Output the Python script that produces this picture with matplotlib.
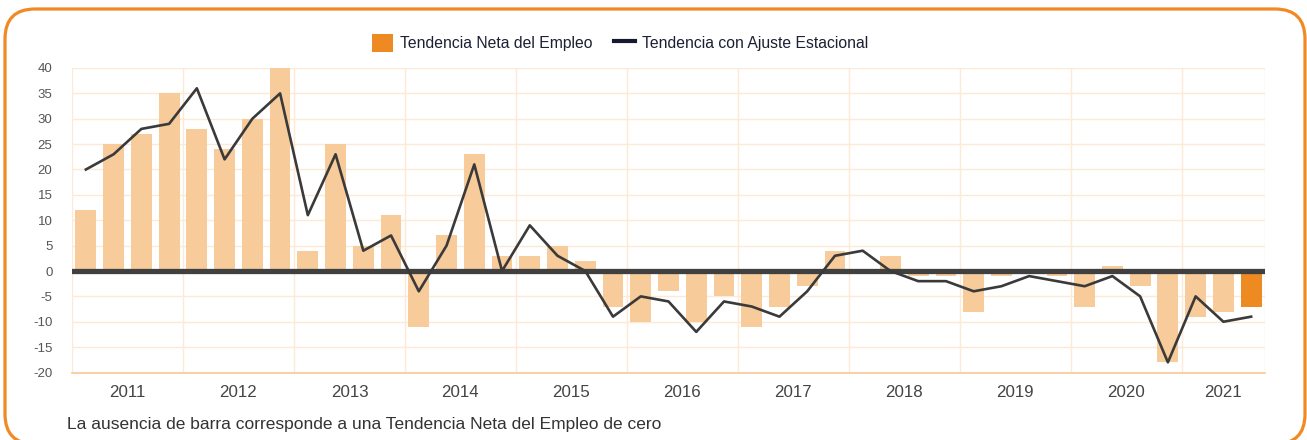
import matplotlib
matplotlib.use('Agg')
import matplotlib.pyplot as plt
from matplotlib.patches import FancyBboxPatch, Patch
from matplotlib.lines import Line2D
import numpy as np

plt.rcParams['font.family'] = ['Liberation Sans', 'DejaVu Sans']

# quarterly data, 2011 Q1 .. 2021 Q3
years = ['2011', '2012', '2013', '2014', '2015', '2016', '2017', '2018', '2019', '2020', '2021']
quarters_per_year = [4, 4, 4, 4, 4, 4, 4, 4, 4, 4, 3]
tendencia_neta = [12, 25, 27, 35, 28, 24, 30, 40, 4, 25, 5, 11,
                  -11, 7, 23, 3, 3, 5, 2, -7, -10, -4, -10, -5,
                  -11, -7, -3, 4, 0, 3, -1, -1, -8, -1, 0, -1,
                  -7, 1, -3, -18, -9, -8, -7]
ajuste_estacional = [20, 23, 28, 29, 36, 22, 30, 35, 11, 23, 4, 7,
                     -4, 5, 21, 0, 9, 3, 0, -9, -5, -6, -12, -6,
                     -7, -9, -4, 3, 4, 0, -2, -2, -4, -3, -1, -2,
                     -3, -1, -5, -18, -5, -10, -9]
y_ticks = [-20, -15, -10, -5, 0, 5, 10, 15, 20, 25, 30, 35, 40]

light_orange = '#f8cb9a'
dark_orange = '#ee8a22'
grid_color = '#fde9d6'
text_gray = '#444444'

fig = plt.figure(figsize=(13.07, 4.4), dpi=100)

# rounded orange frame in pixel units; bottom edge runs off the image
bg = fig.add_axes([0, 0, 1, 1], zorder=0)
bg.set_xlim(0, 1307)
bg.set_ylim(0, 440)
bg.axis('off')
bg.add_patch(FancyBboxPatch((5, -4), 1300, 435, boxstyle='round,pad=0,rounding_size=30',
                            facecolor='white', edgecolor='#ef8a25', linewidth=2.3,
                            clip_on=False))

ax = fig.add_axes([72 / 1307, 67.5 / 440, 1193 / 1307, 304.5 / 440], zorder=1)
ax.set_facecolor('none')

n = len(tendencia_neta)
x = np.arange(n)
colors = [light_orange] * (n - 1) + [dark_orange]
ax.bar(x, tendencia_neta, width=0.75, color=colors, zorder=2)
ax.plot(x, ajuste_estacional, color='#3a3a3a', linewidth=1.9, zorder=4)
ax.axhline(0, color='#404040', linewidth=3.8, zorder=3, solid_capstyle='round')

ax.set_xlim(-0.5, n - 0.5)
ax.set_ylim(-20, 40)

# grid
for yv in y_ticks:
    ax.axhline(yv, color=grid_color, linewidth=1, zorder=1)
edges = np.concatenate([[0], np.cumsum(quarters_per_year)]) - 0.5
for xv in edges:
    ax.axvline(xv, color=grid_color, linewidth=1, zorder=1)

for side in ['top', 'right', 'left']:
    ax.spines[side].set_visible(False)
ax.spines['bottom'].set_color('#f9c896')
ax.spines['bottom'].set_linewidth(1.2)

ax.set_yticks(y_ticks)
ax.set_yticklabels([str(v) for v in y_ticks])
ax.tick_params(axis='y', length=0, pad=14, labelsize=9.5, labelcolor='#555555')

centers = (edges[:-1] + edges[1:]) / 2
ax.set_xticks(centers)
ax.set_xticklabels(years)
ax.tick_params(axis='x', length=0, pad=9, labelsize=12.2, labelcolor=text_gray)

handles = [Patch(facecolor=dark_orange, edgecolor='none'),
           Line2D([0], [0], color='#151a30', linewidth=3)]
fig.legend(handles, ['Tendencia Neta del Empleo', 'Tendencia con Ajuste Estacional'],
           loc='center', bbox_to_anchor=(620 / 1307, 1 - 43 / 440), ncol=2, frameon=False,
           fontsize=11.3, handlelength=1.3, handleheight=1.4, handletextpad=0.45,
           columnspacing=1.4, labelcolor='#1b2033')

fig.text(67 / 1307, 1 - 424 / 440,
         'La ausencia de barra corresponde a una Tendencia Neta del Empleo de cero',
         ha='left', va='center', fontsize=12.5, color='#333333')

fig.savefig('out.png', dpi=100)
